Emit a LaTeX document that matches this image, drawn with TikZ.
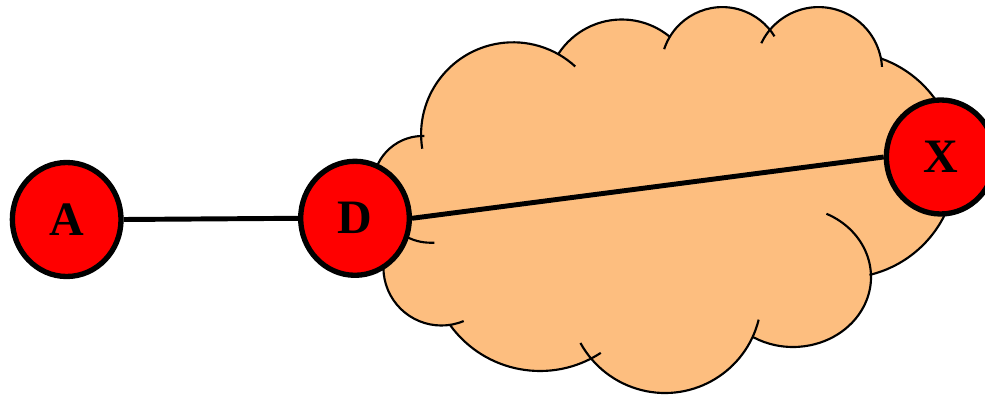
\documentclass[tikz,border=0pt]{standalone}
\usepackage{fontspec}
\setmainfont{Liberation Serif}
\usetikzlibrary{shapes.geometric}
\definecolor{cloudpeach}{RGB}{253,190,127}
\definecolor{nodered}{RGB}{255,0,0}
\newcommand\cloudlobe[4]{\draw[cloudline] (#1) ++(#2:#4) arc[start angle=#2,end angle=#3,radius=#4];}
\begin{document}
\begin{tikzpicture}[x=0.75pt,y=-0.75pt,
  cloudfill/.style={fill=cloudpeach},
  cloudline/.style={draw=black,line width=1.6pt},
  vertex/.style={ellipse,draw=black,fill=nodered,line width=4pt,inner sep=0pt,
     minimum width=81.5pt,minimum height=85.5pt,
     font=\bfseries\fontsize{36}{36}\selectfont},
  link/.style={draw=black,line width=3.7pt}]
\useasboundingbox (0,0) rectangle (985,395);
% cloud fill
\fill[cloudfill] (422.6,185.6) circle[radius=49.6];
\fill[cloudfill] (513.1,134.3) circle[radius=92];
\fill[cloudfill] (621.7,95) circle[radius=75.5];
\fill[cloudfill] (722.3,68.3) circle[radius=61.2];
\fill[cloudfill] (818.6,70.6) circle[radius=63.5];
\fill[cloudfill] (843.3,165) circle[radius=113];
\fill[cloudfill] (793,277) ellipse[x radius=78,y radius=70];
\fill[cloudfill] (665,296.5) circle[radius=96.5];
\fill[cloudfill] (540,260) circle[radius=111];
\fill[cloudfill] (441.4,267.5) circle[radius=58];
\fill[cloudfill] (430,180) -- (600,100) -- (800,100) -- (850,200) -- (760,300) -- (560,300) -- (440,260) -- cycle;
% cloud outline
\cloudlobe{422.6,185.6}{150}{272}{49.6}
\cloudlobe{513.1,134.3}{171}{312.5}{92}
\cloudlobe{621.7,95}{212.9}{309.6}{75.5}
\cloudlobe{722.3,68.3}{198.2}{328.5}{61.2}
\cloudlobe{818.6,70.6}{205.5}{356.6}{63.5}
\cloudlobe{843.3,165}{-70.5}{76.6}{113}
\draw[cloudline] (793,277) ++(-64.6:78 and 70) arc[start angle=-64.6,end angle=120.8,x radius=78,y radius=70];
\cloudlobe{665,296.5}{13.9}{151.2}{96.5}
\cloudlobe{540,260}{56.8}{144.2}{111}
\cloudlobe{441.4,267.5}{67.4}{200}{58}
\draw[cloudline] (405,236) .. controls (416,242) and (425,243) .. (434.3,242.7);
% nodes
\node[vertex] (A) at (66.7,219.5) {A};
\node[vertex] (D) at (355,218.3) {D};
\node[vertex] (X) at (940.7,157) {X};
% links
\draw[link] (A.east) -- (D.west);
\draw[link] (D.east) -- (X.west);
\end{tikzpicture}
\end{document}
